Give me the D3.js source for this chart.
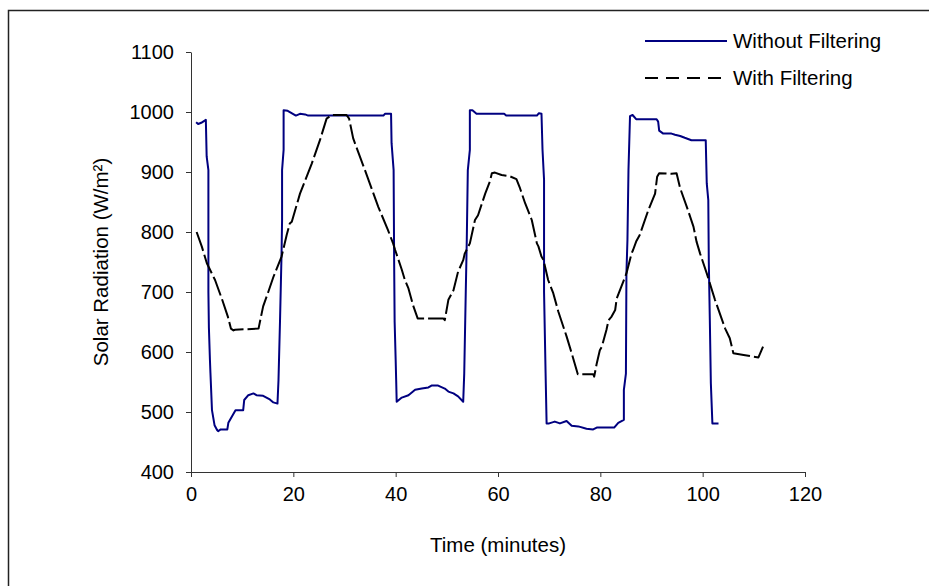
<!DOCTYPE html>
<html>
<head>
<meta charset="utf-8">
<script src="https://cdn.jsdelivr.net/npm/d3@7"></script>
<style>
  body { margin: 0; background: #fff; }
  svg { font-family: "Liberation Sans", Arial, sans-serif; }
  .axis path, .axis line { stroke: #333; }
  .axis text { fill: #000; font-size: 20px; }
</style>
</head>
<body>
<div id="chart"></div>
<script>
//Time in minutes, radiation in W/m2
var rawTime = [1.0,1.4,2.0,2.9,3.06,3.4,3.4,3.5,3.7,3.8,4.1,4.6,5.1,5.3,5.8,7.1,7.3,8.7,10.2,10.4,11.2,12.2,12.8,14.1,15.4,16.1,16.9,
  17.1,17.4,17.7,17.8,17.8,18.1,18.1,18.9,20.5,21.3,22.3,22.9,37.6,37.9,39.1,39.2,39.6,39.7,39.8,40.0,40.1,40.2,41.2,42.5,43.8,45.1,
  46.4,47.0,48.3,49.6,50.3,51.3,52.2,53.2,53.4,53.7,53.9,54.1,54.5,54.5,55.0,55.8,61.2,61.6,67.6,68.0,68.5,68.7,69.0,69.0,69.3,69.5,
  70.0,71.1,72.1,73.4,74.4,75.7,77.3,78.6,79.3,82.7,83.5,84.6,84.6,85.0,85.1,85.3,85.5,85.8,86.3,87.0,91.0,91.3,91.5,92.3,93.9,94.6,
  95.6,96.5,97.8,100.6,100.8,101.1,101.2,101.4,101.6,101.9,103.1];
var rawValues = [983,980,982,987,926,903,700,640,587,565,503,478,470,468,471,471,482,503,503,520,528,531,528,527,521,516,514,
  553,653,765,820,903,937,1003,1002,994,997,996,994,994,997,997,948,903,753,650,587,553,517,524,528,537,539,
  541,544,544,539,534,531,526,517,564,700,787,903,937,1003,1003,997,997,994,994,998,997,937,887,700,565,481,
  481,484,481,485,477,476,472,471,474,474,482,487,537,564,731,787,903,993,995,988,988,984,969,964,964,962,
  960,957,953,953,881,853,750,653,548,481,481];

var filtTime = [1.1,2.1,3.1,4.7,6.1,7.2,7.8,8.3,8.6,13.2,14.1,15.1,16.1,17.7,18.7,19.3,19.7,21.3,23.6,25.2,26.5,27.5,30.4,30.9,
  31.7,34.0,36.6,38.5,39.5,39.9,41.2,41.8,42.5,43.4,44.3,49.3,49.6,50.3,51.3,52.2,53.2,53.5,54.5,55.5,56.1,57.5,58.4,58.8,59.4,
  60.7,62.3,63.6,64.3,65.3,66.6,67.6,67.9,68.5,68.9,69.8,70.8,71.8,73.4,74.4,75.6,78.6,78.8,79.3,79.9,80.3,81.2,81.6,82.2,82.9,
  83.2,85.1,86.1,86.4,87.0,87.7,89.4,90.7,91.1,91.5,93.9,94.9,95.6,96.9,98.2,98.8,99.5,100.8,102.4,104.4,105.3,106.0,108.0,110.9,111.8];
var filtValues = [800,776,748,720,687,659,639,636,637,639,676,700,725,759,795,814,817,864,914,953,989,995,995,989,
  956,903,842,803,781,770,737,720,706,678,656,656,653,687,703,734,753,764,781,820,828,864,884,898,899,
  895,893,888,873,848,820,781,776,759,753,720,698,667,626,598,563,563,559,581,603,609,637,653,659,670,
  689,731,764,770,784,795,837,864,892,898,897,898,873,842,809,784,764,731,687,639,623,598,595,591,609];

var xTicks = [0, 20, 40, 60, 80, 100, 120];
var yTicks = [400, 500, 600, 700, 800, 900, 1000, 1100];
var seriesNames = ["Without Filtering", "With Filtering"];

var width = 929,
    height = 586,
    margin = {top: 52, left: 191},
    plotW = 614,
    plotH = 420;

var svg = d3.select("#chart").append("svg")
    .attr("width", width)
    .attr("height", height);

//Outer frame, runs off the right and bottom edges like the original
svg.append("rect")
    .attr("x", 8.5).attr("y", 10.5)
    .attr("width", 960).attr("height", 620)
    .attr("fill", "none")
    .attr("stroke", "#222")
    .attr("stroke-width", 1.5);

var g = svg.append("g")
    .attr("transform", "translate(" + margin.left + "," + margin.top + ")");

var x = d3.scaleLinear().domain([0, 120]).range([0, plotW]);
var y = d3.scaleLinear().domain([400, 1100]).range([plotH, 0]);

g.append("g")
    .attr("class", "axis")
    .attr("transform", "translate(0," + plotH + ")")
    .call(d3.axisBottom(x).tickValues(xTicks).tickFormat(d3.format("d"))
      .tickSize(5).tickSizeOuter(0).tickPadding(10));

g.append("g")
    .attr("class", "axis")
    .call(d3.axisLeft(y).tickValues(yTicks).tickFormat(d3.format("d"))
      .tickSize(5).tickSizeOuter(0).tickPadding(12));

//Build point lists from the arrays
var rawData = rawTime.map(function(t, i) { return [t, rawValues[i]]; });
var filtData = filtTime.map(function(t, i) { return [t, filtValues[i]]; });

var line = d3.line()
    .x(function(d) { return x(d[0]); })
    .y(function(d) { return y(d[1]); });

g.append("path")
    .datum(rawData)
    .attr("d", line)
    .attr("fill", "none")
    .attr("stroke", "#000080")
    .attr("stroke-width", 2)
    .attr("stroke-linejoin", "round");

g.append("path")
    .datum(filtData)
    .attr("d", line)
    .attr("fill", "none")
    .attr("stroke", "#000")
    .attr("stroke-width", 2)
    .attr("stroke-dasharray", "20,4")
    .attr("stroke-linejoin", "round");

//Axis titles
svg.append("text")
    .attr("x", margin.left + plotW / 2)
    .attr("y", 552)
    .attr("text-anchor", "middle")
    .style("font-size", "20.5px")
    .text("Time (minutes)");

svg.append("text")
    .attr("transform", "translate(108," + (margin.top + plotH / 2) + ") rotate(-90)")
    .attr("text-anchor", "middle")
    .style("font-size", "20.5px")
    .text("Solar Radiation (W/m²)");

//Legend
var legend = svg.append("g").attr("transform", "translate(645,41)");
seriesNames.forEach(function(name, i) {
  var row = legend.append("g").attr("transform", "translate(0," + (i * 37) + ")");
  row.append("line")
      .attr("x1", 0).attr("x2", 82)
      .attr("stroke", i === 0 ? "#000080" : "#000")
      .attr("stroke-width", 2)
      .attr("stroke-dasharray", i === 0 ? null : "13,8");
  row.append("text")
      .attr("x", 88)
      .attr("y", 7)
      .style("font-size", "20.5px")
      .text(name);
});
</script>
</body>
</html>
